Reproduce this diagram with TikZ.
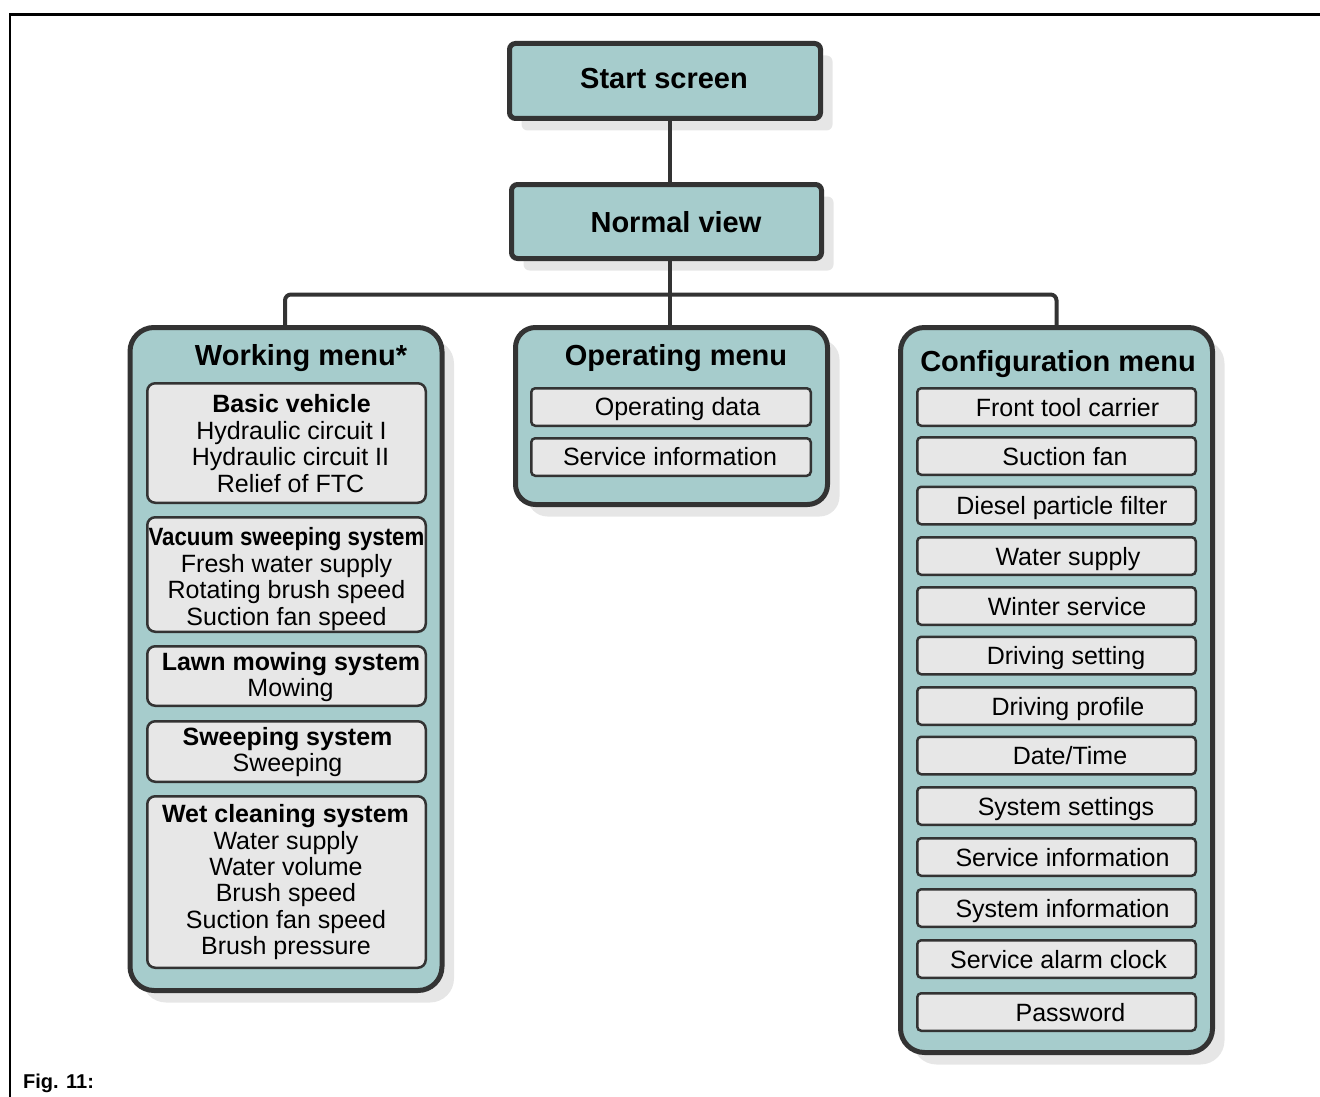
\documentclass[tikz,border=0pt]{standalone}
\usepackage{fontspec}
\setmainfont{Liberation Sans}
\usetikzlibrary{shadows}
\definecolor{teal1}{HTML}{A6CCCC}
\definecolor{shadowc}{HTML}{E6E6E6}
\definecolor{itemc}{HTML}{E7E7E7}
\definecolor{darkc}{HTML}{333333}
\newcommand\headfont{\fontsize{29}{32}\selectfont\bfseries}
\newcommand\subfont{\fontsize{25}{26}\selectfont\bfseries}
\newcommand\itemfont{\fontsize{25}{26}\selectfont}
\tikzset{
  myshadow/.style={drop shadow={shadow xshift=12pt,shadow yshift=-12pt,fill=shadowc,opacity=1}},
  mainbox/.style={draw=darkc,line width=5pt,fill=teal1,rounded corners=6pt,myshadow,inner sep=0pt,minimum width=311pt,minimum height=75pt},
  menubox/.style={draw=darkc,line width=5pt,fill=teal1,rounded corners=24pt,myshadow,inner sep=0pt,minimum width=312pt},
  itembox/.style={draw=darkc,line width=2.5pt,fill=itemc,rounded corners=8pt,inner sep=0pt,minimum width=278.5pt},
  cfgbox/.style={draw=darkc,line width=2.5pt,fill=itemc,rounded corners=4pt,inner sep=0pt,minimum width=278.5pt,minimum height=37.5pt},
  link/.style={draw=darkc,line width=4pt},
  head/.style={anchor=base,inner sep=0pt,font=\headfont},
  sub/.style={anchor=base,inner sep=0pt,font=\subfont},
  txt/.style={anchor=base,inner sep=0pt,font=\itemfont},
}
\begin{document}
\begin{tikzpicture}[x=1pt,y=-1pt]
\useasboundingbox (0,0) rectangle (1320,1097);
% frame
\draw[line width=2.5pt] (10,1110) -- (10,14.3) -- (1330,14.3);
\node[anchor=base west,inner sep=0pt,font=\fontsize{20}{22}\selectfont\bfseries] (fig) at (23,1088) {Fig. 11:};

% main boxes
\node[mainbox] (start) at (665,81) {};
\node[mainbox,minimum width=310pt,minimum height=74pt] (normal) at (666.5,221.5) {};
\node[head] (tstart) at (664,88.5) {Start screen};
\node[head] (tnormal) at (676,232.5) {Normal view};

% menus
\node[menubox,minimum height=663pt] (wmenu) at (286,659) {};
\node[menubox,minimum height=177pt,rounded corners=20pt] (omenu) at (671.5,416) {};
\node[menubox,minimum height=725pt] (cmenu) at (1056.5,690) {};
\node[head] (twmenu) at (301,365) {Working menu*};
\node[head] (tomenu) at (676,365.5) {Operating menu};
\node[head] (tcmenu) at (1058,371) {Configuration menu};

% working menu items
\node[itembox,minimum height=119.5pt] (w1) at (286.5,443) {};
\node[itembox,minimum height=114.5pt] (w2) at (286.5,574.5) {};
\node[itembox,minimum height=59.5pt] (w3) at (286.5,676) {};
\node[itembox,minimum height=60.5pt] (w4) at (286.5,751.5) {};
\node[itembox,minimum height=171.5pt] (w5) at (286.5,882) {};

\node[sub] (w1a) at (291.5,412) {Basic vehicle};
\node[txt] (w1b) at (291.5,439) {Hydraulic circuit I};
\node[txt] (w1c) at (290.5,465.5) {Hydraulic circuit II};
\node[txt] (w1d) at (290.5,492) {Relief of FTC};

\node[sub] (w2a) at (286.5,545.5) {\scalebox{0.89}[1]{Vacuum sweeping system}};
\node[txt] (w2b) at (286.5,572) {Fresh water supply};
\node[txt] (w2c) at (286.5,598.5) {Rotating brush speed};
\node[txt] (w2d) at (286.5,625) {Suction fan speed};

\node[sub] (w3a) at (291,670.5) {Lawn mowing system};
\node[txt] (w3b) at (290.5,696.5) {Mowing};

\node[sub] (w4a) at (287.5,745.5) {Sweeping system};
\node[txt] (w4b) at (287.5,771.5) {Sweeping};

\node[sub] (w5a) at (285.5,822.5) {Wet cleaning system};
\node[txt] (w5b) at (286,849) {Water supply};
\node[txt] (w5c) at (286,875.3) {Water volume};
\node[txt] (w5d) at (286,901.6) {Brush speed};
\node[txt] (w5e) at (286,928) {Suction fan speed};
\node[txt] (w5f) at (286,954.5) {Brush pressure};

% operating menu items
\node[cfgbox,minimum width=279.5pt] (o1) at (671,407) {};
\node[cfgbox,minimum width=279.5pt] (o2) at (671,457) {};
\node[txt] (to1) at (677.5,415) {Operating data};
\node[txt] (to2) at (670,465.5) {Service information};

% configuration menu items
\foreach \n/\c/\tx/\label in {
  c1/407/1067.5/{Front tool carrier},
  c2/456/1065/{Suction fan},
  c3/505.5/1062/{Diesel particle filter},
  c4/556/1068/{Water supply},
  c5/606/1067/{Winter service},
  c6/655.5/1066/{Driving setting},
  c7/706/1068/{Driving profile},
  c8/755.5/1070/{Date/Time},
  c9/806/1066/{System settings},
  c10/857/1062.5/{Service information},
  c11/908/1062.5/{System information},
  c12/959/1058.5/{Service alarm clock},
  c13/1012/1070.5/{Password}}{
  \node[cfgbox] (\n) at (1056.5,\c) {};
  \node[txt] (t\n) at (\tx,\c+9) {\label};
}

% connectors
\coordinate (hub) at (670,294.5);
\draw[link] (start.south -| hub) -- (normal.north -| hub);
\draw[link] (normal.south -| hub) -- (omenu.north -| hub);
\draw[link,rounded corners=6pt] (wmenu.north -| 285,0) |- (hub) -| (cmenu.north);
\end{tikzpicture}
\end{document}
